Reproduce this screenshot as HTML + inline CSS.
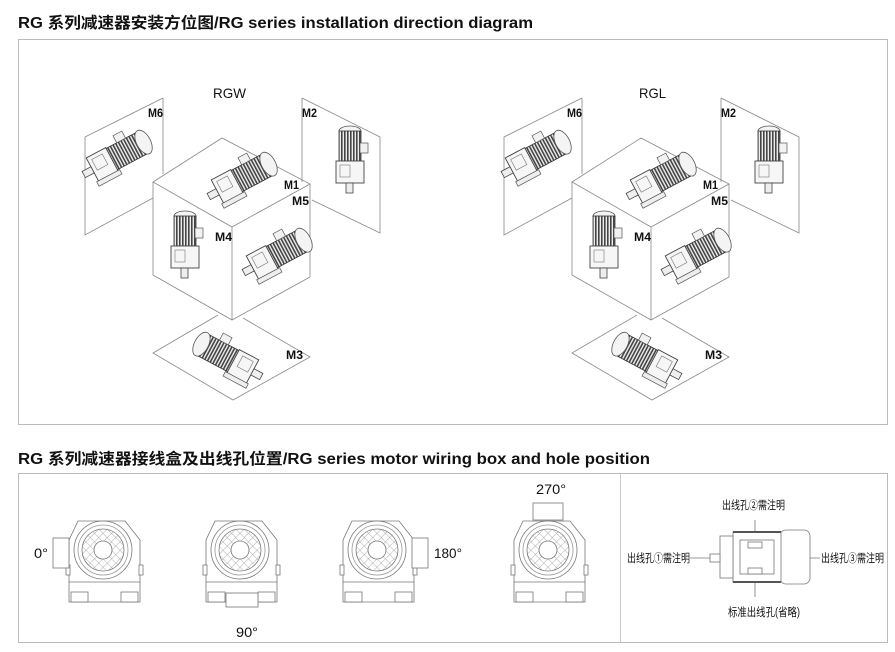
<!DOCTYPE html>
<html><head><meta charset="utf-8"><style>
html,body{margin:0;padding:0;background:#fff;}
svg{display:block;}
text{font-family:"Liberation Sans","Noto Sans CJK SC",sans-serif;}
</style></head><body>
<svg width="895" height="652" viewBox="0 0 895 652" xmlns="http://www.w3.org/2000/svg">
<defs>
 <pattern id="hatch" width="6" height="6" patternUnits="userSpaceOnUse" patternTransform="rotate(45)">
  <rect width="6" height="6" fill="#fff"/>
  <path d="M0 0V6M0 0H6" stroke="#999" stroke-width="0.8"/>
 </pattern>
 <pattern id="fins" width="3" height="10" patternUnits="userSpaceOnUse">
  <rect width="3" height="10" fill="#eee"/><rect width="1.6" height="10" fill="#444"/>
 </pattern>
 <g id="mh">
  <g transform="rotate(-28)">
   <rect x="2" y="-12" width="34" height="24" fill="url(#fins)" stroke="#333" stroke-width="0.8"/>
   <ellipse cx="38" cy="0" rx="7" ry="13" fill="#f4f4f4" stroke="#555" stroke-width="0.8"/>
   <rect x="14" y="-20" width="10" height="8" fill="#f2f2f2" stroke="#555" stroke-width="0.7"/>
   <rect x="-20" y="-13" width="22" height="27" fill="#f6f6f6" stroke="#444" stroke-width="0.9"/>
   <rect x="-16" y="-9" width="12" height="12" fill="none" stroke="#777" stroke-width="0.6"/>
   <rect x="-30" y="-3" width="10" height="7" fill="#eee" stroke="#444" stroke-width="0.8"/>
   <rect x="-22" y="13" width="26" height="5" fill="#eee" stroke="#555" stroke-width="0.7"/>
  </g>
 </g>
 <g id="mv">
  <ellipse cx="0" cy="-34" rx="11" ry="5" fill="#f4f4f4" stroke="#555" stroke-width="0.8"/>
  <rect x="-11" y="-34" width="22" height="30" fill="url(#fins)" stroke="#333" stroke-width="0.8"/>
  <rect x="10" y="-22" width="8" height="10" fill="#f2f2f2" stroke="#555" stroke-width="0.7"/>
  <rect x="-14" y="-4" width="28" height="22" fill="#f6f6f6" stroke="#444" stroke-width="0.9"/>
  <rect x="-10" y="0" width="10" height="12" fill="none" stroke="#777" stroke-width="0.6"/>
  <rect x="-4" y="18" width="7" height="10" fill="#eee" stroke="#444" stroke-width="0.8"/>
 </g>
 <g id="fv" fill="#fff" stroke="#777" stroke-width="0.8">
  <path d="M-25 -29 H22 L37 -10 V52 H-34 V-10 Z"/>
  <path d="M-34 32 H37"/>
  <rect x="-32" y="42" width="17" height="10"/>
  <rect x="18" y="42" width="17" height="10"/>
  <circle r="29"/>
  <circle r="25" stroke="#999"/>
  <circle r="21" fill="url(#hatch)"/>
  <circle r="9" fill="#fff"/>
  <rect x="-37" y="15" width="4" height="10"/>
  <rect x="36" y="15" width="4" height="10"/>
 </g>
 <g id="cube">
  <path d="M163 98 V174 M163 98 L85 137 V235 L153 198" fill="none" stroke="#888" stroke-width="0.8"/>
  <path d="M302 98 V182 M302 98 L380 137 V233 L312 200" fill="none" stroke="#888" stroke-width="0.8"/>
  <path d="M222 138 L153 182 L232 227 L310 184 Z M153 182 V275 L232 320 L310 277 V184 M232 227 V320" fill="none" stroke="#888" stroke-width="0.8"/>
  <path d="M218 315 L153 353 L233 400 L310 357 L243 318" fill="none" stroke="#888" stroke-width="0.8"/>
  <use href="#mh" x="235" y="182"/>
  <use href="#mh" x="110" y="160"/>
  <use href="#mh" x="270" y="258"/>
  <use href="#mv" x="185" y="250"/>
  <use href="#mv" x="350" y="165"/>
  <g transform="translate(235,362) scale(-1,1)"><use href="#mh"/></g>
 </g>
</defs>

<text x="18" y="28" font-size="15.5" font-weight="bold" fill="#111" textLength="515" lengthAdjust="spacingAndGlyphs">RG 系列减速器安装方位图/RG series installation direction diagram</text>
<text x="18" y="464" font-size="15.5" font-weight="bold" fill="#111" textLength="632" lengthAdjust="spacingAndGlyphs">RG 系列减速器接线盒及出线孔位置/RG series motor wiring box and hole position</text>

<rect x="18.5" y="39.5" width="869" height="385" fill="none" stroke="#bbb" stroke-width="1"/>
<use href="#cube"/>
<use href="#cube" x="419"/>
<g font-size="14" fill="#111">
 <text x="213" y="98" textLength="33" lengthAdjust="spacingAndGlyphs">RGW</text>
 <text x="639" y="98" textLength="27" lengthAdjust="spacingAndGlyphs">RGL</text>
</g>
<g font-size="12" fill="#111" font-weight="bold">
 <text x="148" y="117" textLength="15" lengthAdjust="spacingAndGlyphs">M6</text>
 <text x="302" y="117" textLength="15" lengthAdjust="spacingAndGlyphs">M2</text>
 <text x="284" y="189" textLength="15" lengthAdjust="spacingAndGlyphs">M1</text>
 <text x="292" y="205" textLength="17" lengthAdjust="spacingAndGlyphs">M5</text>
 <text x="215" y="241" textLength="17" lengthAdjust="spacingAndGlyphs">M4</text>
 <text x="286" y="359" textLength="17" lengthAdjust="spacingAndGlyphs">M3</text>
 <text x="567" y="117" textLength="15" lengthAdjust="spacingAndGlyphs">M6</text>
 <text x="721" y="117" textLength="15" lengthAdjust="spacingAndGlyphs">M2</text>
 <text x="703" y="189" textLength="15" lengthAdjust="spacingAndGlyphs">M1</text>
 <text x="711" y="205" textLength="17" lengthAdjust="spacingAndGlyphs">M5</text>
 <text x="634" y="241" textLength="17" lengthAdjust="spacingAndGlyphs">M4</text>
 <text x="705" y="359" textLength="17" lengthAdjust="spacingAndGlyphs">M3</text>
</g>

<rect x="18.5" y="473.5" width="869" height="169" fill="none" stroke="#bbb" stroke-width="1"/>
<line x1="620.5" y1="474" x2="620.5" y2="642" stroke="#ccc"/>

<use href="#fv" x="103" y="550"/>
<rect x="53" y="538" width="16" height="30" fill="#fff" stroke="#777" stroke-width="0.8"/>
<use href="#fv" x="240" y="550"/>
<rect x="226" y="593" width="32" height="14" fill="#fff" stroke="#777" stroke-width="0.8"/>
<use href="#fv" x="377" y="550"/>
<rect x="412" y="538" width="16" height="30" fill="#fff" stroke="#777" stroke-width="0.8"/>
<use href="#fv" x="548" y="550"/>
<rect x="533" y="503" width="30" height="17" fill="#fff" stroke="#777" stroke-width="0.8"/>

<g font-size="14" fill="#111">
 <text x="34" y="558" textLength="14" lengthAdjust="spacingAndGlyphs">0°</text>
 <text x="434" y="558" textLength="28" lengthAdjust="spacingAndGlyphs">180°</text>
 <text x="236" y="637" textLength="22" lengthAdjust="spacingAndGlyphs">90°</text>
 <text x="536" y="494" textLength="30" lengthAdjust="spacingAndGlyphs">270°</text>
</g>

<g stroke="#777" stroke-width="0.8" fill="#fff">
 <line x1="690" y1="558" x2="820" y2="558"/>
 <line x1="755" y1="520" x2="755" y2="597"/>
 <rect x="780" y="530" width="30" height="54" rx="6"/>
 <rect x="733" y="532" width="48" height="50"/>
 <rect x="740" y="540" width="34" height="34"/>
 <rect x="748" y="542" width="14" height="6"/>
 <rect x="748" y="568" width="14" height="6"/>
 <rect x="720" y="536" width="13" height="42"/>
 <rect x="710" y="554" width="10" height="8"/>
 <line x1="733" y1="532" x2="781" y2="532" stroke="#555" stroke-width="2"/>
 <line x1="733" y1="582" x2="781" y2="582" stroke="#555" stroke-width="2"/>
</g>
<g font-size="11.5" fill="#111">
 <text x="722" y="509" textLength="63" lengthAdjust="spacingAndGlyphs">出线孔②需注明</text>
 <text x="627" y="562" textLength="63" lengthAdjust="spacingAndGlyphs">出线孔①需注明</text>
 <text x="821" y="562" textLength="63" lengthAdjust="spacingAndGlyphs">出线孔③需注明</text>
 <text x="728" y="616" textLength="72" lengthAdjust="spacingAndGlyphs">标准出线孔(省略)</text>
</g>
</svg>
</body></html>
